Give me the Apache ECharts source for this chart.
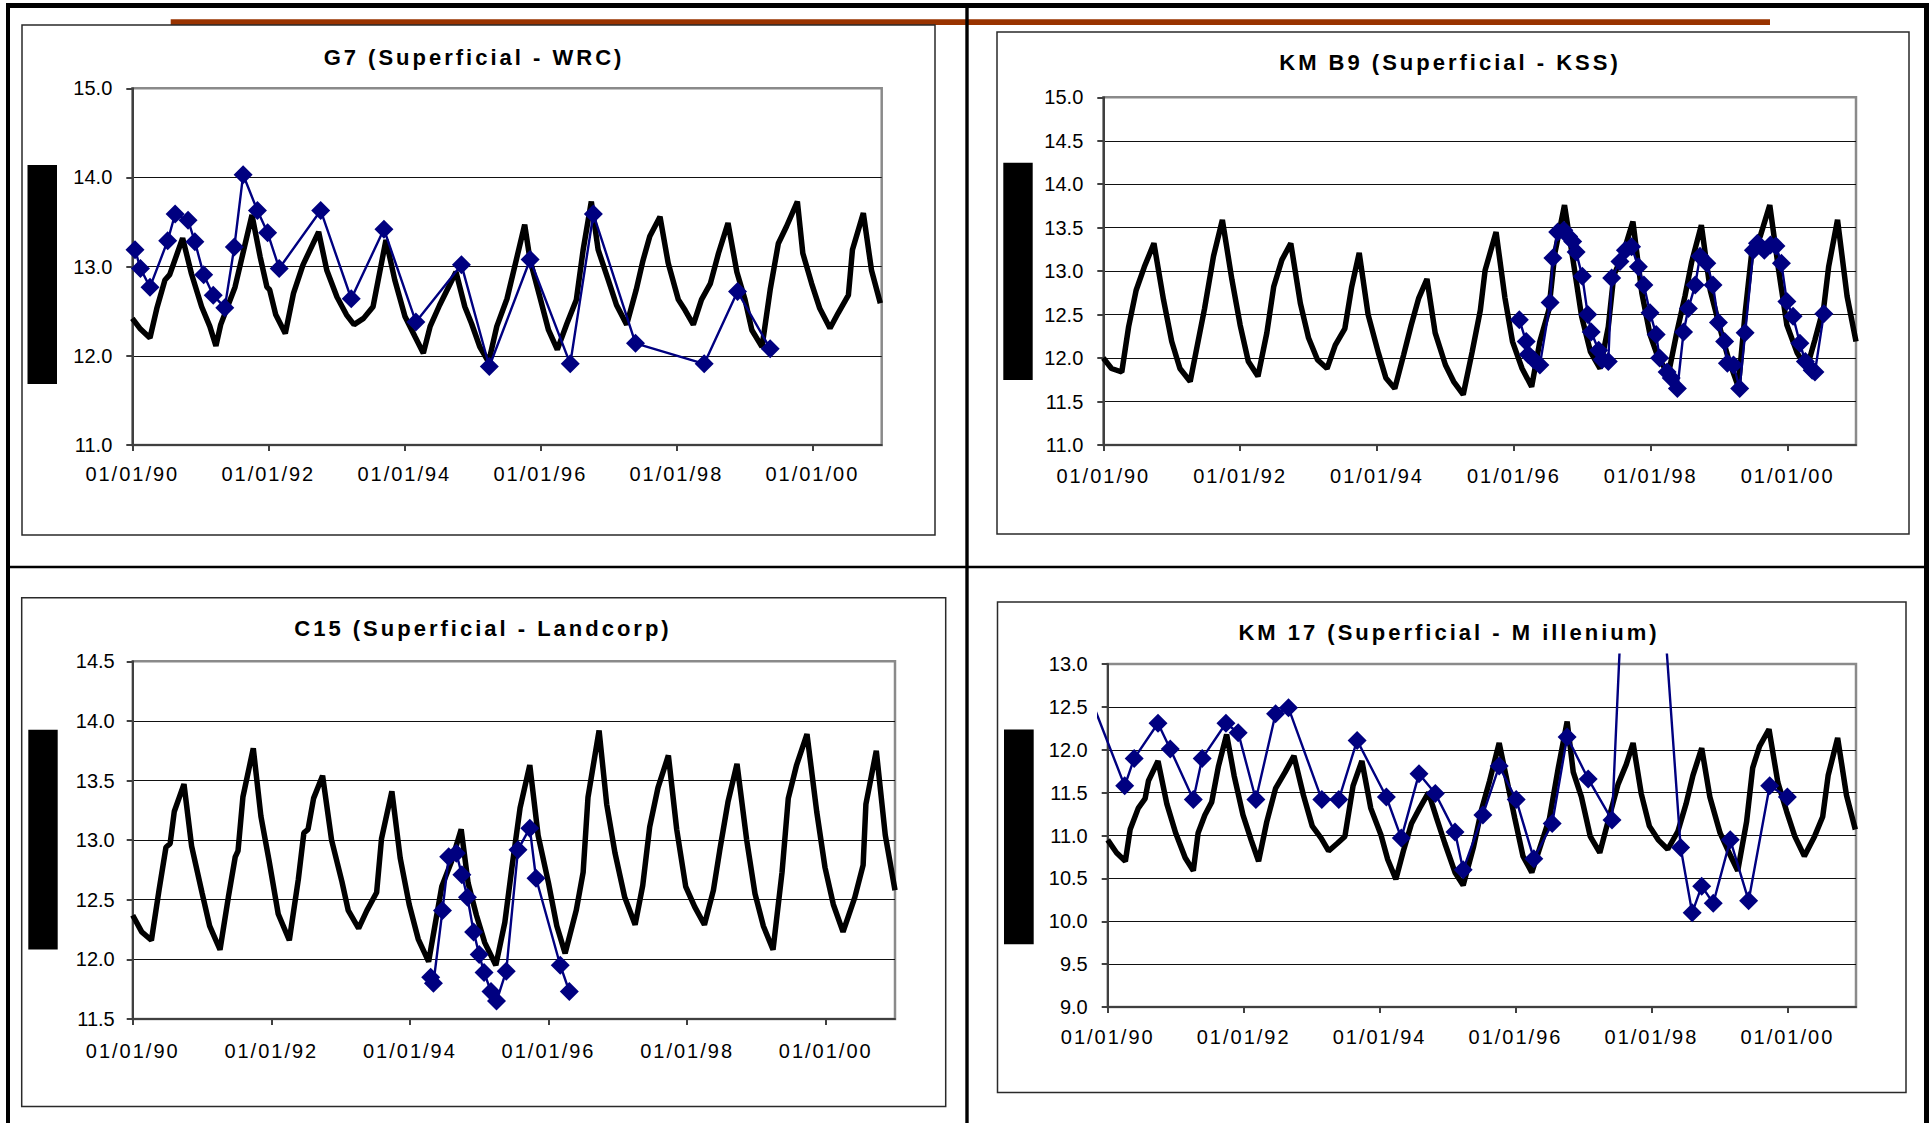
<!DOCTYPE html>
<html>
<head>
<meta charset="utf-8">
<style>
html,body{margin:0;padding:0;background:#fff;}
#c{width:1930px;height:1123px;}
#c text[style*="Helvetica"]{letter-spacing:3px;}
#c text[style*="Arial"]{letter-spacing:2px;}
</style>
<script src="https://cdn.jsdelivr.net/npm/echarts@6/dist/echarts.min.js"></script>
</head>
<body>
<div id="c"></div>
<script>
// ---------- data (decimal year, water level) ----------
const titles = ['G7 (Superficial - WRC)', 'KM B9 (Superficial - KSS)', 'C15 (Superficial - Landcorp)', 'KM 17 (Superficial - M illenium)'];
const xTickValues = [1990, 1992, 1994, 1996, 1998, 2000];
const xTickLabels = ['01/01/90', '01/01/92', '01/01/94', '01/01/96', '01/01/98', '01/01/00'];
const yRanges = [[11, 15, 1], [11, 15, 0.5], [11.5, 14.5, 0.5], [9, 13, 0.5]];

const g7Model = [[1990.00,12.42],[1990.12,12.30],[1990.26,12.20],[1990.36,12.53],[1990.48,12.85],[1990.55,12.91],[1990.74,13.32],[1990.87,12.92],[1991.02,12.55],[1991.14,12.33],[1991.23,12.11],[1991.30,12.35],[1991.51,12.77],[1991.76,13.58],[1991.88,13.11],[1991.98,12.77],[1992.02,12.74],[1992.11,12.46],[1992.25,12.25],[1992.37,12.70],[1992.51,13.02],[1992.74,13.39],[1992.86,12.96],[1993.01,12.66],[1993.15,12.46],[1993.26,12.35],[1993.40,12.42],[1993.54,12.55],[1993.73,13.30],[1993.86,12.85],[1994.01,12.44],[1994.16,12.21],[1994.28,12.03],[1994.38,12.33],[1994.52,12.57],[1994.76,12.94],[1994.89,12.55],[1994.99,12.36],[1995.11,12.10],[1995.24,11.93],[1995.36,12.33],[1995.51,12.64],[1995.77,13.47],[1995.85,13.07],[1996.00,12.64],[1996.12,12.29],[1996.25,12.07],[1996.39,12.36],[1996.53,12.63],[1996.63,13.19],[1996.75,13.73],[1996.85,13.19],[1997.00,12.85],[1997.12,12.57],[1997.27,12.35],[1997.41,12.74],[1997.51,13.07],[1997.61,13.34],[1997.76,13.56],[1997.88,13.04],[1998.03,12.63],[1998.13,12.51],[1998.25,12.35],[1998.37,12.63],[1998.50,12.81],[1998.62,13.15],[1998.76,13.49],[1998.89,12.94],[1999.01,12.63],[1999.11,12.29],[1999.26,12.10],[1999.38,12.74],[1999.50,13.26],[1999.62,13.45],[1999.78,13.73],[1999.86,13.15],[1999.99,12.81],[2000.11,12.53],[2000.26,12.31],[2000.38,12.48],[2000.53,12.68],[2000.59,13.19],[2000.75,13.60],[2000.87,12.96],[2001.00,12.59]];
const g7Obs = [[1990.04,13.19],[1990.12,12.98],[1990.26,12.77],[1990.52,13.29],[1990.63,13.59],[1990.82,13.52],[1990.92,13.28],[1991.05,12.91],[1991.19,12.68],[1991.36,12.54],[1991.50,13.22],[1991.63,14.03],[1991.84,13.63],[1991.99,13.38],[1992.16,12.98],[1992.77,13.63],[1993.22,12.64],[1993.70,13.42],[1994.17,12.38],[1994.84,13.02],[1995.25,11.88],[1995.85,13.08],[1996.44,11.91],[1996.78,13.59],[1997.40,12.14],[1998.41,11.91],[1998.90,12.72],[1999.38,12.08]];

const kmb9Model = [[1990.00,12.00],[1990.12,11.88],[1990.27,11.84],[1990.37,12.36],[1990.48,12.78],[1990.60,13.05],[1990.74,13.32],[1990.88,12.67],[1991.00,12.19],[1991.12,11.88],[1991.27,11.73],[1991.39,12.21],[1991.48,12.57],[1991.61,13.17],[1991.74,13.59],[1991.88,12.90],[1992.00,12.38],[1992.12,11.96],[1992.26,11.79],[1992.39,12.29],[1992.49,12.82],[1992.61,13.13],[1992.74,13.32],[1992.88,12.63],[1993.00,12.23],[1993.13,11.98],[1993.27,11.88],[1993.39,12.15],[1993.53,12.34],[1993.63,12.82],[1993.74,13.21],[1993.87,12.50],[1994.02,12.06],[1994.13,11.77],[1994.26,11.65],[1994.39,12.04],[1994.50,12.38],[1994.61,12.69],[1994.73,12.91],[1994.85,12.29],[1995.00,11.92],[1995.12,11.73],[1995.26,11.58],[1995.39,12.07],[1995.51,12.55],[1995.58,13.01],[1995.74,13.45],[1995.87,12.69],[1995.98,12.19],[1996.12,11.88],[1996.26,11.67],[1996.38,12.19],[1996.51,12.55],[1996.60,13.21],[1996.74,13.76],[1996.88,13.05],[1996.99,12.48],[1997.12,12.07],[1997.26,11.88],[1997.38,12.36],[1997.46,12.95],[1997.60,13.21],[1997.74,13.57],[1997.87,12.75],[1997.99,12.27],[1998.11,12.00],[1998.26,11.82],[1998.38,12.29],[1998.50,12.71],[1998.60,13.11],[1998.74,13.53],[1998.87,12.78],[1999.02,12.32],[1999.14,11.98],[1999.28,11.67],[1999.38,12.52],[1999.48,13.24],[1999.60,13.40],[1999.74,13.76],[1999.87,13.01],[1999.99,12.38],[2000.14,12.06],[2000.28,11.88],[2000.40,12.21],[2000.53,12.59],[2000.60,13.05],[2000.73,13.59],[2000.87,12.71],[2001.00,12.19]];
const kmb9Obs = [[1996.08,12.44],[1996.18,12.19],[1996.21,12.04],[1996.29,11.98],[1996.38,11.92],[1996.53,12.64],[1996.57,13.15],[1996.64,13.45],[1996.73,13.47],[1996.80,13.40],[1996.86,13.34],[1996.91,13.22],[1997.00,12.94],[1997.08,12.50],[1997.13,12.30],[1997.24,12.09],[1997.29,11.98],[1997.38,11.96],[1997.43,12.92],[1997.55,13.11],[1997.63,13.24],[1997.72,13.28],[1997.82,13.05],[1997.90,12.84],[1997.99,12.52],[1998.08,12.27],[1998.13,12.00],[1998.24,11.84],[1998.30,11.77],[1998.39,11.65],[1998.48,12.30],[1998.55,12.57],[1998.65,12.84],[1998.72,13.17],[1998.82,13.09],[1998.91,12.84],[1998.99,12.41],[1999.08,12.19],[1999.12,11.94],[1999.21,11.92],[1999.30,11.65],[1999.38,12.29],[1999.50,13.24],[1999.56,13.32],[1999.66,13.24],[1999.75,13.30],[1999.83,13.29],[1999.91,13.09],[1999.99,12.65],[2000.08,12.48],[2000.18,12.17],[2000.26,11.96],[2000.36,11.86],[2000.40,11.84],[2000.53,12.51]];

const c15Model = [[1990.00,12.37],[1990.13,12.23],[1990.27,12.16],[1990.38,12.58],[1990.48,12.94],[1990.54,12.97],[1990.60,13.24],[1990.74,13.47],[1990.85,12.95],[1991.00,12.56],[1991.11,12.28],[1991.26,12.08],[1991.38,12.52],[1991.48,12.86],[1991.52,12.91],[1991.59,13.36],[1991.74,13.77],[1991.85,13.20],[1991.97,12.82],[1992.10,12.38],[1992.26,12.16],[1992.39,12.67],[1992.47,13.06],[1992.53,13.09],[1992.61,13.35],[1992.74,13.54],[1992.87,13.00],[1993.02,12.65],[1993.11,12.41],[1993.26,12.26],[1993.38,12.41],[1993.52,12.56],[1993.59,13.01],[1993.74,13.41],[1993.86,12.85],[1993.99,12.46],[1994.12,12.17],[1994.27,11.98],[1994.36,12.28],[1994.46,12.61],[1994.60,12.82],[1994.74,13.09],[1994.84,12.64],[1994.96,12.37],[1995.08,12.14],[1995.24,11.95],[1995.37,12.31],[1995.47,12.76],[1995.59,13.27],[1995.73,13.63],[1995.85,13.04],[1996.00,12.64],[1996.12,12.28],[1996.24,12.05],[1996.40,12.41],[1996.50,12.73],[1996.57,13.36],[1996.73,13.92],[1996.84,13.30],[1996.96,12.89],[1997.10,12.52],[1997.25,12.29],[1997.36,12.62],[1997.46,13.11],[1997.58,13.44],[1997.73,13.71],[1997.85,13.09],[1997.98,12.61],[1998.11,12.44],[1998.25,12.29],[1998.38,12.58],[1998.47,12.91],[1998.59,13.32],[1998.72,13.64],[1998.86,13.00],[1998.98,12.55],[1999.10,12.28],[1999.24,12.08],[1999.37,12.73],[1999.46,13.35],[1999.58,13.63],[1999.73,13.89],[1999.87,13.24],[1999.99,12.77],[2000.11,12.46],[2000.25,12.23],[2000.42,12.52],[2000.54,12.79],[2000.58,13.30],[2000.73,13.75],[2000.86,13.04],[2001.00,12.58]];
const c15Obs = [[1994.30,11.85],[1994.34,11.80],[1994.47,12.41],[1994.56,12.86],[1994.67,12.89],[1994.75,12.71],[1994.83,12.52],[1994.92,12.23],[1995.00,12.04],[1995.07,11.89],[1995.17,11.73],[1995.25,11.65],[1995.39,11.90],[1995.56,12.92],[1995.73,13.10],[1995.82,12.68],[1996.17,11.95],[1996.30,11.73]];

const km17Model = [[1990.00,10.95],[1990.13,10.80],[1990.26,10.70],[1990.33,11.07],[1990.45,11.32],[1990.55,11.43],[1990.60,11.64],[1990.74,11.87],[1990.87,11.37],[1991.00,11.03],[1991.14,10.74],[1991.26,10.59],[1991.33,11.03],[1991.43,11.24],[1991.53,11.39],[1991.63,11.81],[1991.75,12.18],[1991.86,11.70],[1991.99,11.24],[1992.11,10.95],[1992.22,10.70],[1992.34,11.16],[1992.47,11.55],[1992.61,11.74],[1992.74,11.93],[1992.88,11.47],[1993.01,11.11],[1993.14,10.97],[1993.25,10.82],[1993.38,10.91],[1993.49,10.99],[1993.61,11.58],[1993.74,11.87],[1993.87,11.32],[1994.02,11.01],[1994.12,10.72],[1994.24,10.49],[1994.35,10.82],[1994.47,11.14],[1994.59,11.32],[1994.72,11.50],[1994.84,11.20],[1994.96,10.91],[1995.11,10.57],[1995.23,10.42],[1995.38,10.86],[1995.50,11.30],[1995.62,11.64],[1995.76,12.08],[1995.88,11.62],[1995.99,11.20],[1996.11,10.76],[1996.24,10.57],[1996.38,10.91],[1996.50,11.20],[1996.63,11.79],[1996.76,12.33],[1996.85,11.74],[1996.97,11.45],[1997.10,10.99],[1997.24,10.80],[1997.36,11.16],[1997.51,11.60],[1997.63,11.83],[1997.73,12.08],[1997.85,11.49],[1997.97,11.11],[1998.10,10.95],[1998.24,10.84],[1998.39,11.05],[1998.51,11.37],[1998.61,11.70],[1998.74,12.02],[1998.86,11.45],[1999.01,11.03],[1999.13,10.82],[1999.27,10.59],[1999.40,11.16],[1999.49,11.79],[1999.59,12.04],[1999.73,12.24],[1999.86,11.62],[1999.99,11.28],[2000.11,10.99],[2000.25,10.76],[2000.40,10.99],[2000.52,11.22],[2000.60,11.70],[2000.74,12.14],[2000.87,11.47],[2001.00,11.07]];
const km17Obs = [[1989.75,12.60],[1990.25,11.58],[1990.39,11.90],[1990.74,12.31],[1990.92,12.01],[1991.26,11.42],[1991.39,11.90],[1991.74,12.31],[1991.92,12.20],[1992.18,11.42],[1992.47,12.42],[1992.66,12.49],[1993.15,11.42],[1993.40,11.42],[1993.67,12.11],[1994.10,11.45],[1994.32,10.97],[1994.58,11.72],[1994.82,11.49],[1995.11,11.04],[1995.23,10.60],[1995.52,11.24],[1995.76,11.81],[1996.01,11.42],[1996.27,10.73],[1996.54,11.14],[1996.76,12.15],[1997.07,11.66],[1997.42,11.18],[1997.80,17.90],[1998.43,10.86],[1998.60,10.10],[1998.74,10.41],[1998.91,10.21],[1999.16,10.95],[1999.43,10.24],[1999.74,11.58],[2000.00,11.45]];

const models = [g7Model, kmb9Model, c15Model, km17Model];
const observations = [g7Obs, kmb9Obs, c15Obs, km17Obs];

// ---------- layout (pixels) ----------
const layout = [
  {plot:[132.3, 88.3, 749.4, 356.7], xMax:2001.02, xm:19, ym:20, frame:[22, 25, 913, 510], block:[27.5, 165, 29.5, 219], t:[474, 57]},
  {plot:[1103.3, 97.3, 752.7, 347.7], xMax:2001.0, xm:21, ym:20, frame:[997, 32, 912, 502], block:[1003.3, 162.7, 29.4, 217.3], t:[1450, 62]},
  {plot:[132.7, 661.3, 762.3, 357.6], xMax:2001.0, xm:22, ym:18, frame:[21.7, 597.7, 924, 508.8], block:[28.3, 729.8, 29.4, 219.8], t:[483, 628]},
  {plot:[1107.7, 664.1, 748.3, 342.9], xMax:2001.01, xm:20, ym:20, frame:[997.5, 602, 908.5, 490.5], block:[1004, 729.5, 29.7, 214.7], t:[1449, 632]}
];

const AX = '#404040';
const grids = [], xAxes = [], yAxes = [], series = [], elements = [];

layout.forEach((p, i) => {
  const [yMin, yMax, yStep] = yRanges[i];
  grids.push({left:p.plot[0], top:p.plot[1], width:p.plot[2], height:p.plot[3], show:true,
    borderColor:'#8a8a8a', borderWidth:2.5, backgroundColor:'transparent', containLabel:false, outerBoundsMode:'none'});
  xAxes.push({type:'value', gridIndex:i, min:1990, max:p.xMax,
    axisLine:{show:true, onZero:false, lineStyle:{color:AX, width:2}},
    axisTick:{show:true, customValues:xTickValues, length:6, lineStyle:{color:AX, width:2}},
    axisLabel:{show:true, customValues:xTickValues, formatter:v => xTickLabels[xTickValues.indexOf(v)],
      margin:p.xm, color:'#000', fontSize:20, fontFamily:'Liberation Sans, Arial'},
    splitLine:{show:false}});
  yAxes.push({type:'value', gridIndex:i, min:yMin, max:yMax, interval:yStep,
    axisLine:{show:true, onZero:false, lineStyle:{color:AX, width:2}},
    axisTick:{show:true, length:6, lineStyle:{color:AX, width:2}},
    axisLabel:{formatter:v => v.toFixed(1), margin:p.ym, color:'#000', fontSize:20, fontFamily:'Liberation Sans'},
    splitLine:{show:true, showMinLine:false, showMaxLine:false, lineStyle:{color:'#111', width:1}}});
  series.push({type:'line', xAxisIndex:i, yAxisIndex:i, data:models[i], symbol:'none', showSymbol:false,
    lineStyle:{color:'#000', width:5.5}, itemStyle:{color:'#000'}, z:2, silent:true});

  elements.push({type:'rect', shape:{x:p.frame[0], y:p.frame[1], width:p.frame[2], height:p.frame[3]},
    style:{fill:'none', stroke:'#2a2a2a', lineWidth:1.5}, z:1});
  elements.push({type:'rect', shape:{x:p.block[0], y:p.block[1], width:p.block[2], height:p.block[3]},
    style:{fill:'#000'}, z:1});
  elements.push({type:'text', x:p.t[0], y:p.t[1], z:5,
    style:{text:titles[i], fill:'#000', font:'bold 22px Liberation Sans, Helvetica', align:'center', verticalAlign:'middle'}});
});

// hidden, slightly larger grid for the KM 17 observations (clip region a bit beyond the plot area)
(function () {
  const p = layout[3], pad = 9.5;
  const [yMin, yMax] = yRanges[3];
  const xpp = (p.xMax - 1990) / p.plot[2], ypp = (yMax - yMin) / p.plot[3];
  grids.push({left:p.plot[0] - pad, top:p.plot[1] - pad, width:p.plot[2] + 2 * pad, height:p.plot[3] + 2 * pad,
    show:false, containLabel:false, outerBoundsMode:'none'});
  xAxes.push({type:'value', gridIndex:4, show:false, min:1990 - pad * xpp, max:p.xMax + pad * xpp});
  yAxes.push({type:'value', gridIndex:4, show:false, min:yMin - pad * ypp, max:yMax + pad * ypp, splitLine:{show:false}});
})();

observations.forEach((d, i) => {
  const ax = i === 3 ? 4 : i;
  series.push({type:'line', xAxisIndex:ax, yAxisIndex:ax, data:d, symbol:'diamond', symbolSize:19, showSymbol:true,
    clip:true, lineStyle:{color:'#000080', width:2.4}, itemStyle:{color:'#000080'}, z:3});
});

// page decorations
elements.push({type:'rect', shape:{x:170.7, y:19.3, width:1599.3, height:5.7}, style:{fill:'#993300'}, z:0});
elements.push({type:'rect', shape:{x:6, y:3, width:1922, height:5}, style:{fill:'#000'}, z:1});
elements.push({type:'rect', shape:{x:6, y:3, width:4, height:1120}, style:{fill:'#000'}, z:1});
elements.push({type:'rect', shape:{x:1924, y:3, width:5, height:1120}, style:{fill:'#000'}, z:1});
elements.push({type:'rect', shape:{x:965.3, y:3, width:3.4, height:1120}, style:{fill:'#000'}, z:1});
elements.push({type:'rect', shape:{x:6, y:565.7, width:1922, height:2.6}, style:{fill:'#000'}, z:1});

const chart = echarts.init(document.getElementById('c'), null, {renderer:'svg'});
chart.setOption({
  animation:false,
  backgroundColor:'#fff',
  grid:grids, xAxis:xAxes, yAxis:yAxes, series:series,
  graphic:{elements:elements}
});
</script>
</body>
</html>
